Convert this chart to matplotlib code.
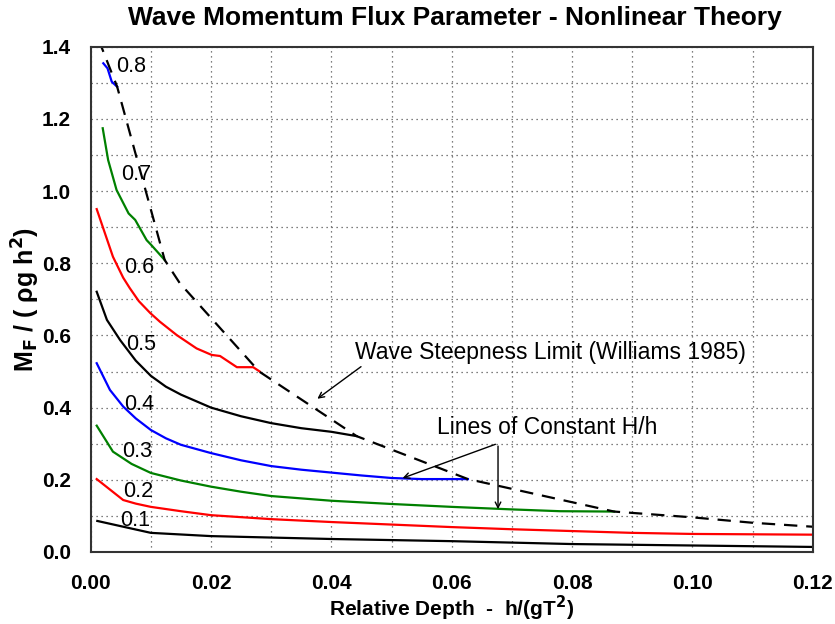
import numpy as np
import matplotlib.pyplot as plt
from matplotlib.ticker import MultipleLocator

# Wave momentum flux parameter, nonlinear theory, lines of constant H/h

plt.rcParams['font.family'] = ['Liberation Sans', 'DejaVu Sans']

# --- curves of constant H/h (x = h/gT^2, y = MF/(rho g h^2)) ---
h01_x = [0.0011, 0.010, 0.020, 0.040, 0.060, 0.080, 0.100, 0.120]
h01_y = [0.086, 0.053, 0.044, 0.036, 0.030, 0.022, 0.018, 0.014]

h02_x = [0.0010, 0.0054, 0.0075, 0.010, 0.015, 0.020, 0.030, 0.040, 0.050, 0.060,
         0.070, 0.080, 0.090, 0.100, 0.110, 0.120]
h02_y = [0.202, 0.144, 0.134, 0.125, 0.113, 0.102, 0.091, 0.083, 0.076, 0.069,
         0.063, 0.058, 0.053, 0.050, 0.049, 0.048]

h03_x = [0.0010, 0.0037, 0.0068, 0.010, 0.015, 0.020, 0.025, 0.030, 0.040, 0.050,
         0.060, 0.070, 0.078, 0.087]
h03_y = [0.350, 0.278, 0.244, 0.219, 0.198, 0.181, 0.167, 0.155, 0.142, 0.133,
         0.125, 0.118, 0.113, 0.112]

h04_x = [0.0010, 0.0032, 0.0054, 0.0075, 0.010, 0.0125, 0.015, 0.020, 0.025, 0.030,
         0.035, 0.040, 0.045, 0.050, 0.055, 0.0627]
h04_y = [0.523, 0.449, 0.403, 0.370, 0.338, 0.315, 0.297, 0.274, 0.254, 0.238,
         0.228, 0.220, 0.212, 0.205, 0.202, 0.202]

h05_x = [0.0010, 0.0027, 0.0049, 0.0075, 0.010, 0.0125, 0.015, 0.020, 0.025, 0.030,
         0.035, 0.040, 0.0442]
h05_y = [0.721, 0.643, 0.587, 0.530, 0.488, 0.458, 0.436, 0.400, 0.376, 0.357,
         0.343, 0.333, 0.321]

h06_x = [0.0010, 0.0037, 0.0054, 0.0065, 0.0080, 0.0099, 0.0115, 0.0143, 0.0176,
         0.0201, 0.0215, 0.0243, 0.027, 0.0281]
h06_y = [0.950, 0.818, 0.760, 0.731, 0.695, 0.662, 0.638, 0.601, 0.564,
         0.546, 0.543, 0.512, 0.512, 0.500]

h07_x = [0.0020, 0.0029, 0.0043, 0.0063, 0.0074, 0.0093, 0.0101, 0.0123]
h07_y = [1.174, 1.086, 1.003, 0.938, 0.920, 0.864, 0.850, 0.809]

h08_x = [0.0021, 0.0028, 0.0035, 0.0044]
h08_y = [1.354, 1.340, 1.303, 1.289]

# wave steepness limit (Williams 1985)
lim_x = [0.0013, 0.0044, 0.0123, 0.0148, 0.028, 0.0442, 0.0627, 0.087, 0.100, 0.110, 0.120]
lim_y = [1.420, 1.289, 0.809, 0.745, 0.500, 0.321, 0.202, 0.112, 0.096, 0.081, 0.070]

curve_labels = ['0.1', '0.2', '0.3', '0.4', '0.5', '0.6', '0.7', '0.8']
label_x = [0.0074, 0.0079, 0.0077, 0.0081, 0.0084, 0.0081, 0.0075, 0.0067]
label_y = [0.087, 0.168, 0.279, 0.410, 0.576, 0.787, 1.047, 1.346]

curves = [(h01_x, h01_y, 'black'), (h02_x, h02_y, 'red'), (h03_x, h03_y, 'green'),
          (h04_x, h04_y, 'blue'), (h05_x, h05_y, 'black'), (h06_x, h06_y, 'red'),
          (h07_x, h07_y, 'green'), (h08_x, h08_y, 'blue')]

fig = plt.figure(figsize=(8.35, 6.24), dpi=100)
ax = fig.add_axes([0.1086, 0.1154, 0.8647, 0.8098])

for xs, ys, c in curves:
    ax.plot(xs, ys, color=c, lw=1.6)

ax.plot(lim_x, lim_y, color='black', lw=1.6, ls=(0, (6, 4)))

for txt, lx, ly in zip(curve_labels, label_x, label_y):
    ax.text(lx, ly, txt, fontsize=15.5, ha='center', va='center')

# annotations
ax.annotate('', xy=(0.0373, 0.420), xytext=(0.0453, 0.518),
            arrowprops=dict(arrowstyle='->', color='black', lw=1.0))
ax.text(0.0439, 0.554, 'Wave Steepness Limit (Williams 1985)', fontsize=16.5,
        ha='left', va='center')

ax.annotate('', xy=(0.0514, 0.202), xytext=(0.0677, 0.301),
            arrowprops=dict(arrowstyle='->', color='black', lw=1.0))
ax.annotate('', xy=(0.0677, 0.111), xytext=(0.0677, 0.301),
            arrowprops=dict(arrowstyle='->', color='black', lw=1.0))
ax.text(0.0576, 0.346, 'Lines of Constant H/h', fontsize=16.5,
        ha='left', va='center')

ax.set_xlim(0, 0.12)
ax.set_ylim(0, 1.4)
ax.xaxis.set_major_locator(MultipleLocator(0.02))
ax.xaxis.set_minor_locator(MultipleLocator(0.01))
ax.yaxis.set_major_locator(MultipleLocator(0.2))
ax.yaxis.set_minor_locator(MultipleLocator(0.1))
ax.grid(True, which='both', color='#555555', ls=(0, (1, 3)), lw=0.9)
ax.tick_params(which='both', length=0)
ax.tick_params(axis='x', pad=16)
ax.tick_params(axis='y', pad=14)
ax.set_xticklabels([f'{v:.2f}' for v in ax.get_xticks()])
ax.set_yticklabels([f'{v:.1f}' for v in ax.get_yticks()])
for lab in ax.get_xticklabels() + ax.get_yticklabels():
    lab.set_fontweight('bold')
    lab.set_fontsize(15)
for s in ax.spines.values():
    s.set_linewidth(1.5)
    s.set_color('#333333')

ax.set_xlabel('Relative Depth  -  h/(gT$^\\mathbf{2}$)', fontsize=15, fontweight='bold')
ax.xaxis.set_label_coords(0.5, -0.082)
ax.set_ylabel('M$_\\mathbf{F}$ / ( ρg h$^\\mathbf{2}$)', fontsize=18, fontweight='bold')
ax.yaxis.set_label_coords(-0.067, 0.5)
fig.suptitle('Wave Momentum Flux Parameter - Nonlinear Theory',
             x=0.545, y=0.99, fontsize=19, fontweight='bold', va='top')

fig.savefig('out.png', dpi=100)
